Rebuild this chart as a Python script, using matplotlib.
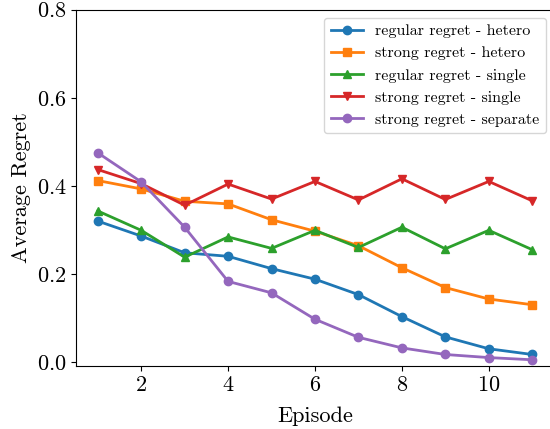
"""Average regret per episode for the hetero / single / separate settings."""

import matplotlib
matplotlib.use("Agg")
import matplotlib.pyplot as plt

plt.rcParams["font.family"] = "serif"
plt.rcParams["font.serif"] = ["cmr10"]
plt.rcParams["mathtext.fontset"] = "cm"
plt.rcParams["axes.formatter.use_mathtext"] = True

episodes = [1, 2, 3, 4, 5, 6, 7, 8, 9, 10, 11]

regular_hetero = [0.320, 0.286, 0.248, 0.240, 0.212, 0.188, 0.153, 0.103, 0.057, 0.030, 0.017]
strong_hetero = [0.412, 0.393, 0.365, 0.359, 0.323, 0.297, 0.264, 0.214, 0.169, 0.143, 0.130]
regular_single = [0.343, 0.299, 0.238, 0.284, 0.258, 0.299, 0.260, 0.306, 0.257, 0.299, 0.255]
strong_single = [0.437, 0.405, 0.356, 0.404, 0.370, 0.410, 0.368, 0.416, 0.369, 0.410, 0.366]
strong_separate = [0.475, 0.409, 0.306, 0.183, 0.157, 0.097, 0.056, 0.032, 0.017, 0.010, 0.005]

fig = plt.figure(figsize=(5.5, 4.29), dpi=100)
ax = fig.add_axes([0.1382, 0.1476, 0.869, 0.8298])

ax.plot(episodes, regular_hetero, marker="o", lw=2, ms=6, color="tab:blue", label="regular regret - hetero")
ax.plot(episodes, strong_hetero, marker="s", lw=2, ms=6, color="tab:orange", label="strong regret - hetero")
ax.plot(episodes, regular_single, marker="^", lw=2, ms=6, color="tab:green", label="regular regret - single")
ax.plot(episodes, strong_single, marker="v", lw=2, ms=6, color="tab:red", label="strong regret - single")
ax.plot(episodes, strong_separate, marker="o", lw=2, ms=6, color="tab:purple", label="strong regret - separate")

ax.set_xlim(0.5, 11.5)
ax.set_ylim(-0.0084, 0.8)
ax.set_xticks([2, 4, 6, 8, 10])
ax.set_yticks([0.0, 0.2, 0.4, 0.6, 0.8])
ax.tick_params(labelsize=16)
ax.set_xlabel("Episode", fontsize=16, labelpad=8)
ax.set_ylabel("Average Regret", fontsize=16, labelpad=4)
ax.legend(loc="upper right", fontsize=11.5)

fig.savefig("out.png", dpi=100)
